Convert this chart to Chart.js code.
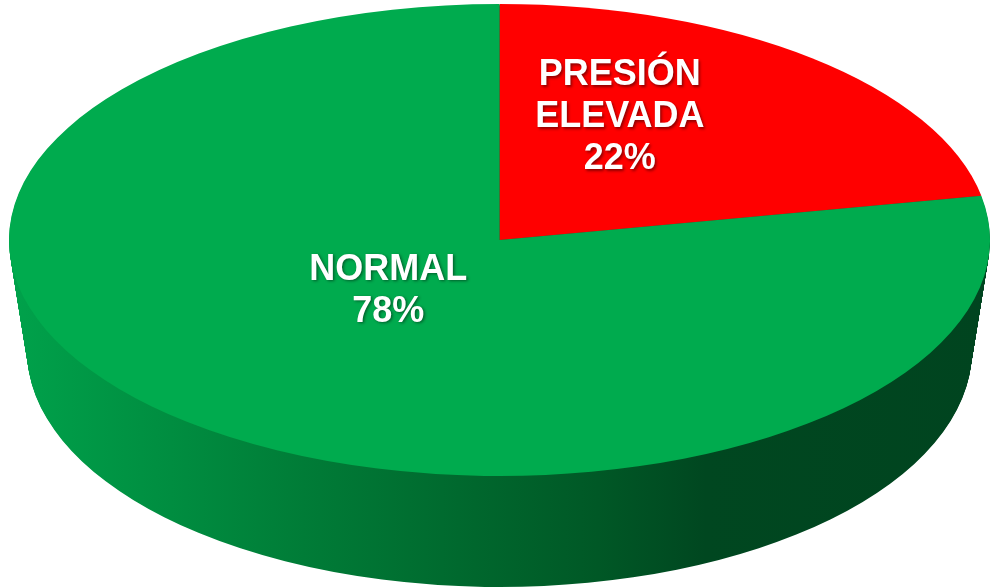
<!DOCTYPE html>
<html>
<head>
<meta charset="utf-8">
<script src="https://cdn.jsdelivr.net/npm/chart.js@4/dist/chart.umd.min.js"></script>
<style>
  html, body { margin: 0; padding: 0; background: #ffffff; }
  #c { display: block; }
</style>
</head>
<body>
<canvas id="c" width="990" height="588"></canvas>
<script>
// ---- data ----
const categories = ['PRESIÓN ELEVADA', 'NORMAL'];
const categoryLines = [['PRESIÓN', 'ELEVADA'], ['NORMAL']];
const values = [22, 78];
const percentLabels = ['22%', '78%'];

// ---- style ----
const topColors = ['#ff0000', '#00ab4e'];
const RX = 490.5, RY = 236, DEPTH = 111, TAPER = 0.037;
const labelOffsets = [[-36, -32], [45, -40]];
const LINE_H = 42;

const pie3d = {
  id: 'pie3d',
  beforeDatasetsDraw(chart) {
    const ctx = chart.ctx;
    const meta = chart.getDatasetMeta(0);
    const a0 = meta.data[0];
    const cx = a0.x, cy = a0.y, r = a0.outerRadius;
    const sx = RX / r, sy = RY / r;
    const sideFillFor = (k) => {
      const ux = X => cx + (X - cx) / (sx * k);
      const g = ctx.createLinearGradient(ux(9), 0, ux(990), 0);
      g.addColorStop(0.00, '#00a24b');
      g.addColorStop(0.30, '#007c37');
      g.addColorStop(0.60, '#005826');
      g.addColorStop(0.71, '#004720');
      g.addColorStop(1.00, '#00441f');
      return g;
    };
    meta.data.forEach((el, i) => {
      for (let d = DEPTH; d >= 1; d -= 1) {
        const k = 1 - TAPER * d / DEPTH;
        const fill = i === 0 ? '#a00000' : sideFillFor(k);
        const wrap = new Proxy(ctx, {
          get(t, p) { const v = t[p]; return typeof v === 'function' ? v.bind(t) : v; },
          set(t, p, v) { t[p] = (p === 'fillStyle') ? fill : v; return true; }
        });
        ctx.save();
        ctx.translate(cx, cy + d);
        ctx.scale(sx * k, sy);
        ctx.translate(-cx, -cy);
        el.draw(wrap);
        ctx.restore();
      }
    });
    ctx.save();
    ctx.translate(cx, cy); ctx.scale(sx, sy); ctx.translate(-cx, -cy);
    // transform kept for the top face draw, restored in afterDatasetsDraw
  },
  afterDatasetsDraw(chart) {
    const ctx = chart.ctx;
    ctx.restore();
    const meta = chart.getDatasetMeta(0);
    const a0 = meta.data[0];
    const cx = a0.x, cy = a0.y, r = a0.outerRadius;
    const sx = RX / r, sy = RY / r;
    ctx.save();
    ctx.font = 'bold 36px "Liberation Sans", Arial, sans-serif';
    ctx.fillStyle = '#ffffff';
    ctx.textAlign = 'center';
    ctx.textBaseline = 'middle';
    ctx.shadowColor = 'rgba(0,0,0,0.45)';
    ctx.shadowBlur = 3;
    ctx.shadowOffsetX = 1.5;
    ctx.shadowOffsetY = 1.5;
    meta.data.forEach((el, i) => {
      const mid = (el.startAngle + el.endAngle) / 2;
      const rr = el.outerRadius / 2;
      const px = cx + Math.cos(mid) * rr * sx + labelOffsets[i][0];
      const py = cy + Math.sin(mid) * rr * sy + labelOffsets[i][1];
      const lines = categoryLines[i].concat([percentLabels[i]]);
      const y0 = py - (lines.length - 1) * LINE_H / 2;
      lines.forEach((t, k) => ctx.fillText(t, px, y0 + k * LINE_H));
    });
    ctx.restore();
  }
};

new Chart(document.getElementById('c'), {
  type: 'pie',
  data: {
    labels: categories,
    datasets: [{
      data: values,
      backgroundColor: topColors,
      borderWidth: 0,
      clip: false
    }]
  },
  options: {
    responsive: false,
    devicePixelRatio: 1,
    animation: false,
    layout: { padding: { left: 9, right: 0, top: 4, bottom: 112 } },
    plugins: { legend: { display: false }, tooltip: { enabled: false } },
    events: []
  },
  plugins: [pie3d]
});
</script>
</body>
</html>
